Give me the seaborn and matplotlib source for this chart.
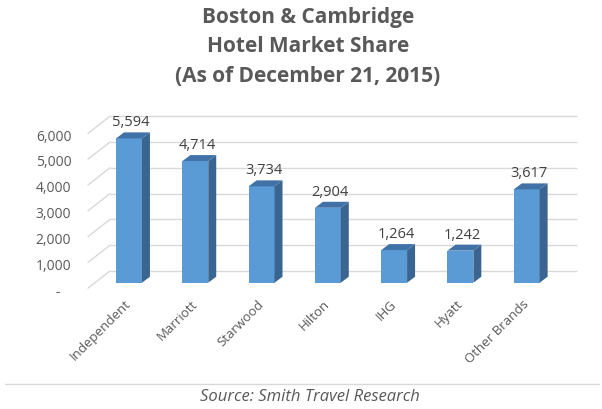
import matplotlib
matplotlib.use("Agg")
import matplotlib.pyplot as plt
from matplotlib.patches import Polygon
from matplotlib.lines import Line2D
from matplotlib.transforms import ScaledTranslation
import seaborn as sns
import pandas as pd

# ---- data ----
categories = ["Independent", "Marriott", "Starwood", "Hilton", "IHG", "Hyatt", "Other Brands"]
values = [5594, 4714, 3734, 2904, 1264, 1242, 3617]
y_ticks = [0, 1000, 2000, 3000, 4000, 5000, 6000]
title_text = "Boston & Cambridge\nHotel Market Share\n(As of December 21, 2015)"
source_text = "Source: Smith Travel Research"

# ---- style ----
FRONT = "#5B9BD5"
SIDE = "#3A6591"
TOP = "#4072A8"
GRID = "#D9D9D9"
TXT = "#595959"

sns.set_theme(style="white")
plt.rcParams['font.family'] = ['Open Sans', 'DejaVu Sans']

W, H = 602, 409
fig = plt.figure(figsize=(W / 100, H / 100), dpi=100)
fig.patch.set_facecolor("white")

# axes = front plane of the bars (pixel geometry)
ax_left, ax_right = 88, 555
ax_bottom_px, ax_height = 282.7, 154.8
ax = fig.add_axes([ax_left / W, (H - ax_bottom_px) / H, (ax_right - ax_left) / W, ax_height / H])
ax.set_facecolor("white")

df = pd.DataFrame({"category": categories, "value": values})
sns.barplot(data=df, x="category", y="value", color=FRONT, width=0.39,
            saturation=1, linewidth=0, edgecolor="none", ax=ax, zorder=3)

xlim = (-0.619, 6.427)
ylim = (0, 6000)
ax.set_xlim(*xlim)
ax.set_ylim(*ylim)
for s in ax.spines.values():
    s.set_visible(False)
ax.set_xlabel("")
ax.set_ylabel("")

px2x = (xlim[1] - xlim[0]) / (ax_right - ax_left)
px2y = (ylim[1] - ylim[0]) / ax_height

# 3D depth of the bars (side and top faces derived from each bar)
DX, DY = 8 * px2x, 6 * px2y
for p in list(ax.patches):
    x0, w, h = p.get_x(), p.get_width(), p.get_height()
    x1 = x0 + w
    side = Polygon([(x1, 0), (x1, h), (x1 + DX, h + DY), (x1 + DX, DY)],
                   closed=True, facecolor=SIDE, edgecolor="none", zorder=3, clip_on=False)
    top = Polygon([(x0, h), (x1, h), (x1 + DX, h + DY), (x0 + DX, h + DY)],
                  closed=True, facecolor=TOP, edgecolor="none", zorder=3, clip_on=False)
    ax.add_patch(side)
    ax.add_patch(top)
    ax.annotate(f"{int(round(h)):,}", (x0 + w / 2, h), xytext=(2, 15.5),
                textcoords="offset pixels", ha="center", va="center",
                fontsize=10.5, color="#404040", annotation_clip=False)

# back-wall gridlines and side-wall diagonals
BX, BY = 22 * px2x, 11.7 * px2y
FY = 5.5 * px2y
for t in y_ticks:
    ax.plot([xlim[0] + BX, xlim[1] + BX], [t + BY, t + BY], color=GRID, lw=1,
            clip_on=False, zorder=0, solid_capstyle="butt")
    ax.plot([xlim[0], xlim[0] + BX], [t - FY, t + BY], color=GRID, lw=1,
            clip_on=False, zorder=0)

# y ticks (label plane slightly in front of the bars)
ax.set_yticks(y_ticks, labels=["-   " if t == 0 else f"{t:,}" for t in y_ticks])
ax.tick_params(axis="y", length=0, pad=12, labelsize=10, labelcolor=TXT)
shift = ScaledTranslation(0, -7.3 / 100, fig.dpi_scale_trans)
for lbl in ax.get_yticklabels():
    lbl.set_transform(lbl.get_transform() + shift)

# x ticks
ax.tick_params(axis="x", length=0, pad=14, labelsize=9.5, labelcolor=TXT)
for lbl in ax.get_xticklabels():
    lbl.set_rotation(45)
    lbl.set_ha("right")
    lbl.set_va("center")
    lbl.set_rotation_mode("anchor")

# title
fig.text(308 / W, 1 - 47 / H, title_text, ha="center", va="center",
         fontsize=15, fontweight="bold", color=TXT, linespacing=1.5)

# source line & text
fig.add_artist(Line2D([5 / W, 599 / W], [1 - 384 / H, 1 - 384 / H],
                      transform=fig.transFigure, color=GRID, lw=1))
fig.text(310 / W, 1 - 397 / H, source_text, ha="center", va="center",
         fontsize=12, style="italic", color=TXT)

fig.savefig("out.png", dpi=100, facecolor="white")
